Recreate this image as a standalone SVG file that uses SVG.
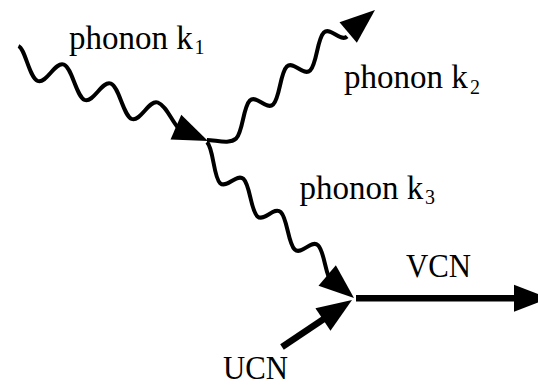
<svg xmlns="http://www.w3.org/2000/svg" width="538" height="385" viewBox="0 0 538 385">
  <style>
    .wave { fill: none; stroke: #000; stroke-width: 4; stroke-linejoin: round; }
    .shaft { stroke: #000; stroke-width: 6.5; }
    .head { fill: #000; }
    .lbl { font-family: "Liberation Serif", "Times New Roman", serif; font-size: 33px; fill: #000; }
    .sub { font-size: 20px; }
  </style>
  <defs>
    <!-- triangular arrowhead, tip at the origin, pointing along +x -->
    <path id="tri" class="head" d="M0,0 L-35,-13.5 L-35,13.5 Z"/>
  </defs>

  <g id="connectors">
    <!-- incoming phonon k1 -->
    <path class="wave" d="M18.5,46 C25.34,48.95 29.16,77.55 37.7,81 C46.24,84.45 55.26,61.05 63.8,64.5 C72.34,67.95 76.16,96.55 84.7,100 C93.24,103.45 102.26,80.05 110.8,83.5 C119.34,86.95 123.16,115.55 131.7,119 C140.24,122.45 149.26,99.05 157.8,102.5 C166.34,105.95 171,120 179,129"/>
    <use href="#tri" transform="translate(208,141) rotate(23.5)"/>

    <!-- outgoing phonon k2 -->
    <path class="wave" d="M207,140 C216,140 229.43,144.68 236.15,138.5 C242.87,132.32 243.13,106.68 249.85,100.5 C256.57,94.32 266.43,110.68 273.15,104.5 C279.87,98.32 280.13,72.68 286.85,66.5 C293.57,60.32 303.43,76.68 310.15,70.5 C316.87,64.32 317.13,38.68 323.85,32.5 C330.57,26.32 340.43,42.68 347.15,36.5"/>
    <use href="#tri" transform="translate(375,10) rotate(-40)"/>

    <!-- phonon k3 towards the neutron vertex -->
    <path class="wave" d="M207,142 C213.78,149.03 213.35,177.17 220.13,183.2 C226.91,189.23 236.6,172.77 243.38,178.8 C250.16,184.83 250.65,210.37 257.43,216.4 C264.21,222.43 273.9,205.97 280.68,212 C287.46,218.03 287.95,243.57 294.73,249.6 C301.51,255.63 311.2,239.17 317.98,245.2 C324.76,251.23 325.25,276.77 332.03,282.8"/>
    <use href="#tri" transform="translate(354,298) rotate(40)"/>

    <!-- UCN in -->
    <line class="shaft" x1="282" y1="347" x2="326" y2="317.5"/>
    <use href="#tri" transform="translate(352,300) rotate(-33.9)"/>

    <!-- VCN out -->
    <line class="shaft" x1="356" y1="298.3" x2="520" y2="298.3"/>
    <use href="#tri" transform="translate(549,298.3)"/>
  </g>

  <g id="label-k1">
    <text class="lbl" x="69" y="48.5">phonon k</text>
    <text class="lbl sub" x="194.5" y="54">1</text>
  </g>
  <g id="label-k2">
    <text class="lbl" x="344" y="88">phonon k</text>
    <text class="lbl sub" x="470" y="93.5">2</text>
  </g>
  <g id="label-k3">
    <text class="lbl" x="299.5" y="198.5">phonon k</text>
    <text class="lbl sub" x="425" y="204">3</text>
  </g>
  <g id="label-vcn">
    <text class="lbl" x="406" y="276.5" textLength="65" lengthAdjust="spacingAndGlyphs">VCN</text>
  </g>
  <g id="label-ucn">
    <text class="lbl" x="223" y="379" textLength="65" lengthAdjust="spacingAndGlyphs">UCN</text>
  </g>
</svg>
